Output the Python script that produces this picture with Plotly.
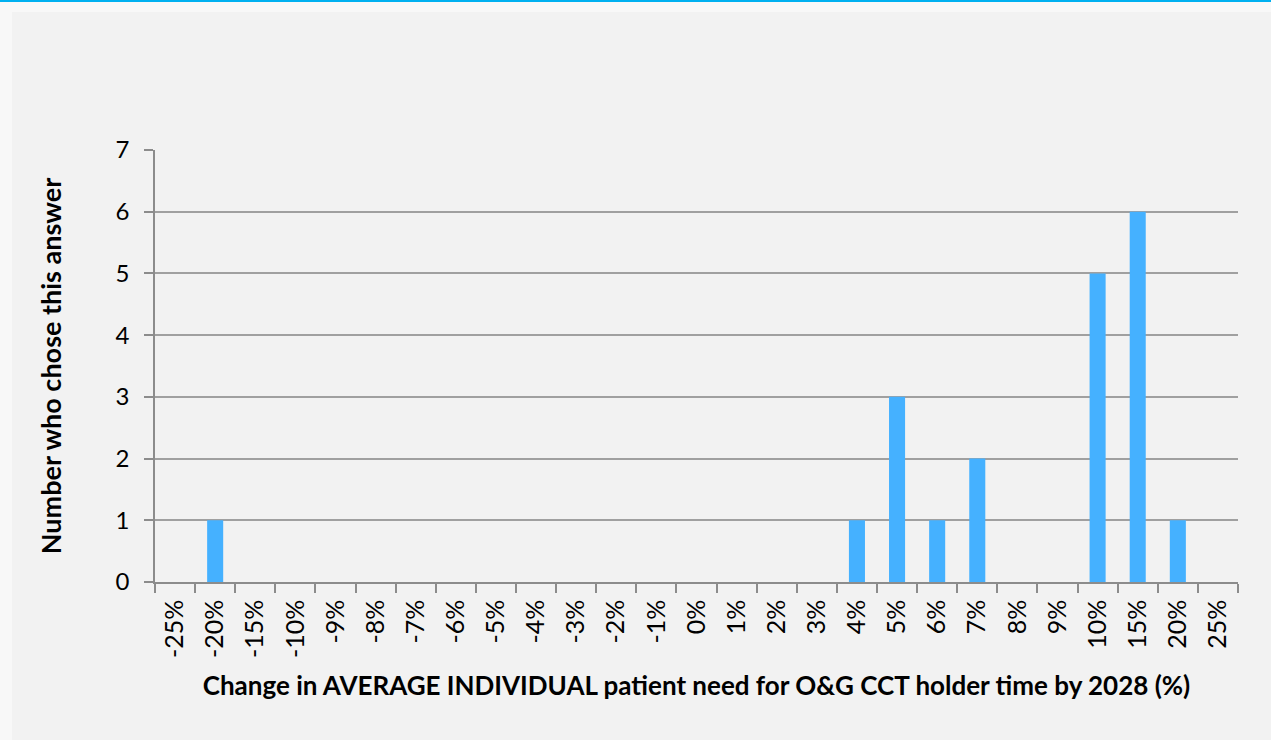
import plotly.graph_objects as go

categories = ["-25%", "-20%", "-15%", "-10%", "-9%", "-8%", "-7%", "-6%", "-5%", "-4%",
              "-3%", "-2%", "-1%", "0%", "1%", "2%", "3%", "4%", "5%", "6%", "7%",
              "8%", "9%", "10%", "15%", "20%", "25%"]
counts = [0, 1, 0, 0, 0, 0, 0, 0, 0, 0,
          0, 0, 0, 0, 0, 0, 0, 1, 3, 1, 2,
          0, 0, 5, 6, 1, 0]
y_ticks = [0, 1, 2, 3, 4, 5, 6, 7]

x_title = "Change in AVERAGE INDIVIDUAL patient need for O&G CCT holder time by 2028 (%)"
y_title = "Number who chose this answer"

W, H = 1271, 740
L, R, T, B = 155, 1238, 150, 582

def px_x(p):
    return (p - L) / (R - L)

def px_y(p):
    return (B - p) / (B - T)

FONT = "Lato"

fig = go.Figure(go.Bar(x=categories, y=counts, marker=dict(color="#45b1ff", line=dict(width=0))))

shapes = [
    dict(type="rect", xref="paper", yref="paper", x0=px_x(0), x1=px_x(12), y0=px_y(H), y1=px_y(0),
         fillcolor="#f8f8f8", line=dict(width=0), layer="below"),
    dict(type="rect", xref="paper", yref="paper", x0=px_x(0), x1=px_x(W), y0=px_y(12), y1=px_y(0),
         fillcolor="#f8f8f8", line=dict(width=0), layer="below"),
    dict(type="rect", xref="paper", yref="paper", x0=px_x(0), x1=px_x(W), y0=px_y(2), y1=px_y(0),
         fillcolor="#00b0f0", line=dict(width=0), layer="below"),
]

fig.update_layout(
    width=W, height=H,
    margin=dict(l=L, r=W - R, t=T, b=H - B, pad=0),
    paper_bgcolor="#f2f2f2", plot_bgcolor="#f2f2f2",
    bargap=0.6, showlegend=False,
    shapes=shapes,
    font=dict(family=FONT, color="#000000"),
    xaxis=dict(
        type="category", tickangle=-90, tickson="boundaries", ticks="outside",
        ticklen=9, tickcolor="#8c8c8c", tickwidth=1.5,
        showline=True, linecolor="#8c8c8c", linewidth=1.5,
        showgrid=False, tickfont=dict(size=25, family=FONT), ticklabelstandoff=6,
        title=dict(text="<b>" + x_title + "</b>", font=dict(size=26, family=FONT), standoff=20),
    ),
    yaxis=dict(
        range=[0, 7], tickvals=y_ticks, ticks="outside", ticklen=9,
        tickcolor="#8c8c8c", tickwidth=1.5,
        showline=True, linecolor="#8c8c8c", linewidth=1.5,
        showgrid=True, gridcolor="#a0a0a0", gridwidth=1.5, zeroline=False,
        tickfont=dict(size=24, family=FONT), ticklabelstandoff=10,
        title=dict(text="<b>" + y_title + "</b>", font=dict(size=27, family=FONT), standoff=46),
    ),
)

fig.write_html(
    "out.html",
    config={"displayModeBar": False},
    post_script="document.body.style.margin='0';document.body.style.padding='0';",
)
